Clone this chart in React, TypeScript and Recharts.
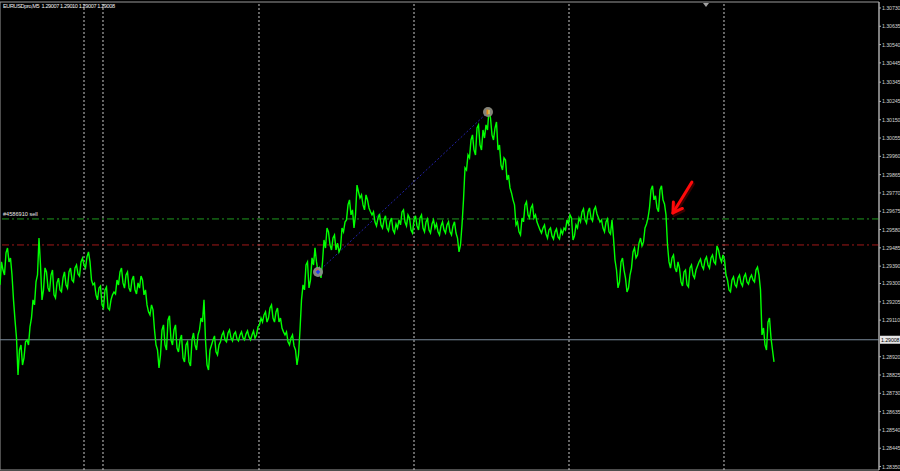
import React from 'react';
import { LineChart, Line, XAxis, YAxis, ReferenceLine, ReferenceDot, ReferenceArea } from 'recharts';

// Closes read at whole-bar positions
const prices: number[] = [
  1.29293, 1.29370, 1.29459, 1.29412, 1.29344, 1.29111, 1.28825, 1.28981, 1.28914, 1.29007,
  1.29075, 1.29215, 1.29308, 1.29536, 1.29215, 1.29381, 1.29277, 1.29344, 1.29241, 1.29303,
  1.29267, 1.29329, 1.29293, 1.29360, 1.29318, 1.29381, 1.29350, 1.29412, 1.29396, 1.29438,
  1.29412, 1.29293, 1.29241, 1.29277, 1.29189, 1.29267, 1.29173, 1.29215, 1.29256, 1.29318,
  1.29360, 1.29303, 1.29344, 1.29277, 1.29318, 1.29267, 1.29303, 1.29339, 1.29241, 1.29189,
  1.29137, 1.29163, 1.28981, 1.28862, 1.29059, 1.28981, 1.29111, 1.29007, 1.29059, 1.28965,
  1.29007, 1.28914, 1.28981, 1.28893, 1.29007, 1.28981, 1.29033, 1.29121, 1.29215, 1.28877,
  1.28955, 1.29007, 1.28945, 1.28981, 1.29033, 1.29007, 1.29043, 1.29017, 1.29038, 1.29012,
  1.29033, 1.29017, 1.29038, 1.29023, 1.29033, 1.29017, 1.29075, 1.29121, 1.29137, 1.29100,
  1.29173, 1.29121, 1.29152, 1.29100, 1.29069, 1.29033, 1.28997, 1.29017, 1.28976, 1.28877,
  1.29059, 1.29293, 1.29396, 1.29277, 1.29433, 1.29485, 1.29360, 1.29329, 1.29526, 1.29588,
  1.29500, 1.29536, 1.29474, 1.29464, 1.29588, 1.29619, 1.29708, 1.29656, 1.29588, 1.29811,
  1.29744, 1.29708, 1.29760, 1.29692, 1.29656, 1.29619, 1.29640, 1.29604, 1.29630, 1.29588,
  1.29619, 1.29578, 1.29609, 1.29630, 1.29671, 1.29619, 1.29656, 1.29578, 1.29630, 1.29599,
  1.29640, 1.29588, 1.29619, 1.29578, 1.29609, 1.29588, 1.29568, 1.29599, 1.29578, 1.29604,
  1.29568, 1.29599, 1.29562, 1.29464, 1.29604, 1.29900, 1.29967, 1.30045, 1.29993, 1.30107,
  1.30019, 1.30097, 1.30123, 1.30201, 1.30071, 1.30107, 1.29993, 1.29915, 1.29952, 1.29837,
  1.29796, 1.29734, 1.29604, 1.29568, 1.29640, 1.29708, 1.29656, 1.29692, 1.29640, 1.29619,
  1.29578, 1.29588, 1.29557, 1.29578, 1.29547, 1.29568, 1.29542, 1.29578, 1.29588, 1.29630,
  1.29656, 1.29526, 1.29604, 1.29640, 1.29671, 1.29630, 1.29671, 1.29640, 1.29682, 1.29661,
  1.29619, 1.29588, 1.29619, 1.29568, 1.29630, 1.29422, 1.29277, 1.29412, 1.29370, 1.29256,
  1.29344, 1.29464, 1.29433, 1.29510, 1.29495, 1.29588, 1.29640, 1.29786, 1.29734, 1.29692,
  1.29786, 1.29734, 1.29656, 1.29412, 1.29433, 1.29381, 1.29412, 1.29308, 1.29360, 1.29293,
  1.29381, 1.29344, 1.29370, 1.29412, 1.29391, 1.29422, 1.29396, 1.29433, 1.29412, 1.29495,
  1.29433, 1.29448, 1.29344, 1.29267, 1.29318, 1.29293, 1.29329, 1.29303, 1.29334, 1.29308,
  1.29329, 1.29318, 1.29370, 1.29344, 1.29033, 1.28981, 1.29100, 1.29017, 1.28893,
];

// Closes read at half-bar positions (between consecutive entries above)
const halfBarPrices: number[] = [
  1.29412, 1.29344, 1.29484, 1.29432, 1.29215, 1.29017, 1.28955, 1.28877, 1.28997, 1.28981,
  1.29121, 1.29189, 1.29344, 1.29396, 1.29267, 1.29360, 1.29257, 1.29370, 1.29225, 1.29328,
  1.29257, 1.29360, 1.29276, 1.29380, 1.29308, 1.29396, 1.29339, 1.29432, 1.29380, 1.29464,
  1.29318, 1.29302, 1.29215, 1.29287, 1.29173, 1.29282, 1.29163, 1.29241, 1.29246, 1.29292,
  1.29380, 1.29276, 1.29360, 1.29257, 1.29339, 1.29246, 1.29276, 1.29318, 1.29267, 1.29153,
  1.29189, 1.29059, 1.28955, 1.28929, 1.29085, 1.28955, 1.29132, 1.28981, 1.29085, 1.28945,
  1.29033, 1.28893, 1.28997, 1.28872, 1.29043, 1.28955, 1.29059, 1.29100, 1.29007, 1.28851,
  1.28981, 1.29028, 1.28929, 1.28997, 1.29049, 1.28997, 1.29059, 1.29002, 1.29049, 1.29002,
  1.29049, 1.29007, 1.29054, 1.29007, 1.29054, 1.29033, 1.29085, 1.29100, 1.29153, 1.29121,
  1.29189, 1.29100, 1.29173, 1.29121, 1.29049, 1.29049, 1.28981, 1.29033, 1.28955, 1.28929,
  1.29215, 1.29267, 1.29412, 1.29318, 1.29396, 1.29412, 1.29380, 1.29412, 1.29484, 1.29568,
  1.29474, 1.29552, 1.29510, 1.29484, 1.29568, 1.29630, 1.29734, 1.29682, 1.29656, 1.29776,
  1.29760, 1.29682, 1.29734, 1.29672, 1.29672, 1.29599, 1.29661, 1.29588, 1.29651, 1.29573,
  1.29640, 1.29562, 1.29588, 1.29604, 1.29682, 1.29599, 1.29640, 1.29562, 1.29651, 1.29578,
  1.29656, 1.29568, 1.29635, 1.29562, 1.29630, 1.29609, 1.29552, 1.29620, 1.29562, 1.29620,
  1.29552, 1.29620, 1.29536, 1.29500, 1.29734, 1.29889, 1.29952, 1.30071, 1.29967, 1.30123,
  1.29993, 1.30055, 1.30097, 1.30159, 1.30045, 1.30138, 1.30019, 1.29889, 1.29941, 1.29863,
  1.29770, 1.29708, 1.29620, 1.29552, 1.29620, 1.29724, 1.29640, 1.29708, 1.29656, 1.29599,
  1.29562, 1.29604, 1.29536, 1.29588, 1.29531, 1.29583, 1.29531, 1.29557, 1.29578, 1.29609,
  1.29640, 1.29547, 1.29588, 1.29620, 1.29687, 1.29614, 1.29692, 1.29625, 1.29698, 1.29640,
  1.29630, 1.29568, 1.29635, 1.29557, 1.29536, 1.29370, 1.29308, 1.29432, 1.29328, 1.29276,
  1.29380, 1.29484, 1.29448, 1.29536, 1.29516, 1.29609, 1.29692, 1.29807, 1.29755, 1.29672,
  1.29807, 1.29713, 1.29500, 1.29380, 1.29448, 1.29360, 1.29380, 1.29287, 1.29370, 1.29282,
  1.29396, 1.29328, 1.29391, 1.29427, 1.29375, 1.29438, 1.29380, 1.29448, 1.29401, 1.29474,
  1.29412, 1.29422, 1.29318, 1.29257, 1.29334, 1.29282, 1.29344, 1.29287, 1.29350, 1.29297,
  1.29344, 1.29308, 1.29385, 1.29267, 1.29069, 1.28955, 1.29121, 1.28955,
];

const yTicks: number[] = [
  1.30730, 1.30635, 1.30540, 1.30445, 1.30345, 1.30245, 1.30150, 1.30055, 1.29960, 1.29865,
  1.29770, 1.29675, 1.29580, 1.29485, 1.29390, 1.29300, 1.29205, 1.29110, 1.28920, 1.28825,
  1.28730, 1.28635, 1.28540, 1.28445, 1.28350,
];

const periodSeparators: number[] = [28, 34.33, 86.33, 138, 189.67, 241.33];

const symbolTitle = 'EURUSDpro,M5  1.29007 1.29010 1.29007 1.29008';
const orderLabel = '#4586910 sell';
const orderPrice = 1.29635;
const stopPrice = 1.29500;
const bidPrice = 1.29008;
const openTrade = { bar: 106, price: 1.29360 };
const closeTrade = { bar: 162.67, price: 1.30190 };
const arrowTip = { bar: 224.3, price: 1.29666 };
const shiftMarkerBar = 235.33;

const xDomain: [number, number] = [0, 293];
const yDomain: [number, number] = [1.28332, 1.30761];

const data: { bar: number; price: number }[] = [];
prices.forEach((p, i) => {
  data.push({ bar: i, price: p });
  if (i < halfBarPrices.length) data.push({ bar: i + 0.5, price: halfBarPrices[i] });
});

const FONT = '"Liberation Sans", Arial, sans-serif';

const AxisTick = (props: any) => {
  const { x, y, payload } = props;
  return (
    <text x={x} y={y + 2} fontSize={5.3} fill="#d0d0d0" fontFamily={FONT} letterSpacing={-0.1}>
      {Number(payload.value).toFixed(5)}
    </text>
  );
};

const BidLabel = (props: any) => {
  const vb = props.viewBox || {};
  const x = (vb.x || 0) + (vb.width || 0) + 1;
  const y = vb.y || 0;
  return (
    <g>
      <rect x={x} y={y - 4} width={20} height={8} fill="#e6e6e6" />
      <text x={x + 1} y={y + 2} fontSize={5.3} fill="#000" fontFamily={FONT} letterSpacing={-0.1}>
        {bidPrice.toFixed(5)}
      </text>
    </g>
  );
};

const OrderLabel = (props: any) => {
  const vb = props.viewBox || {};
  return (
    <text x={(vb.x || 0) + 3} y={(vb.y || 0) - 2.5} fontSize={5.6} fill="#e8e8e8" fontFamily={FONT}>
      {orderLabel}
    </text>
  );
};

const OpenMarker = (props: any) => {
  const { cx, cy } = props;
  return (
    <g>
      <circle cx={cx} cy={cy} r={5} fill="#8a8a8a" opacity={0.95} />
      <circle cx={cx - 0.5} cy={cy - 2} r={1.4} fill="#c06060" />
      <line x1={cx - 2} y1={cy} x2={cx + 2} y2={cy} stroke="#1030ff" strokeWidth={1.2} />
      <line x1={cx} y1={cy - 2} x2={cx} y2={cy + 2} stroke="#1030ff" strokeWidth={1.2} />
    </g>
  );
};

const CloseMarker = (props: any) => {
  const { cx, cy } = props;
  return (
    <g>
      <circle cx={cx} cy={cy} r={5} fill="#8a8a80" opacity={0.95} />
      <rect x={cx - 1.5} y={cy - 2.5} width={2} height={5} fill="#e08a20" />
      <rect x={cx + 0.5} y={cy - 2} width={1} height={4} fill="#f0e060" />
    </g>
  );
};

const RedArrow = (props: any) => {
  const { cx, cy } = props;
  const shaft = `M ${cx + 19} ${cy - 31} L ${cx} ${cy}`;
  const head = `M ${cx + 0.5} ${cy - 11} L ${cx} ${cy} L ${cx + 9.5} ${cy - 4.5}`;
  return (
    <g>
      <path d={shaft} stroke="#3a0000" strokeWidth={3} fill="none" transform="translate(1.5,2)" strokeLinecap="round" />
      <path d={head} stroke="#3a0000" strokeWidth={3} fill="none" transform="translate(1.5,2)" strokeLinecap="round" />
      <path d={shaft} stroke="#ff0a0a" strokeWidth={3} fill="none" strokeLinecap="round" />
      <path d={head} stroke="#ff0a0a" strokeWidth={3} fill="none" strokeLinecap="round" strokeLinejoin="round" />
    </g>
  );
};

const ShiftMarker = (props: any) => {
  const { cx, cy } = props;
  return <path d={`M ${cx - 3} ${cy + 1} L ${cx + 3} ${cy + 1} L ${cx} ${cy + 5} Z`} fill="#a0a0a0" />;
};

export default function App() {
  return (
    <div style={{ position: 'fixed', left: 0, top: 0, width: 900, height: 471, background: '#000' }}>
      <LineChart
        width={900}
        height={471}
        data={data}
        margin={{ top: 2, right: 0, bottom: 1, left: 0 }}
      >
        <XAxis dataKey="bar" type="number" domain={xDomain} hide allowDataOverflow />
        <YAxis
          orientation="right"
          width={21}
          domain={yDomain}
          ticks={yTicks}
          interval={0}
          allowDataOverflow
          tick={<AxisTick />}
          tickSize={2}
          tickMargin={1}
          stroke="#b0b0b0"
          axisLine={{ stroke: '#b0b0b0' }}
          tickLine={{ stroke: '#b0b0b0' }}
        />
        <ReferenceArea
          x1={xDomain[0]}
          x2={xDomain[1]}
          y1={yDomain[0]}
          y2={yDomain[1]}
          fill="none"
          stroke="#9a9a9a"
          strokeWidth={1}
          ifOverflow="visible"
        />
        {periodSeparators.map((b) => (
          <ReferenceLine key={b} x={b} stroke="#c8c8c8" strokeDasharray="2 2" strokeWidth={1} />
        ))}
        <ReferenceLine y={orderPrice} stroke="#1f9a1f" strokeDasharray="7 3 2 3" strokeWidth={1} label={<OrderLabel />} />
        <ReferenceLine y={stopPrice} stroke="#a01818" strokeDasharray="7 3 2 3" strokeWidth={1} />
        <ReferenceLine y={bidPrice} stroke="#7a8a9a" strokeWidth={1} label={<BidLabel />} />
        <ReferenceLine
          segment={[
            { x: openTrade.bar, y: openTrade.price },
            { x: closeTrade.bar, y: closeTrade.price },
          ]}
          stroke="#2222a8"
          strokeDasharray="2 2"
          strokeWidth={1}
        />
        <Line
          type="linear"
          dataKey="price"
          stroke="#00ff00"
          strokeWidth={1.4}
          strokeLinejoin="miter"
          dot={false}
          isAnimationActive={false}
        />
        <ReferenceDot x={openTrade.bar} y={openTrade.price} r={5} shape={<OpenMarker />} />
        <ReferenceDot x={closeTrade.bar} y={closeTrade.price} r={5} shape={<CloseMarker />} />
        <ReferenceDot x={arrowTip.bar} y={arrowTip.price} r={2} shape={<RedArrow />} />
        <ReferenceDot x={shiftMarkerBar} y={yDomain[1]} r={2} shape={<ShiftMarker />} ifOverflow="visible" />
      </LineChart>
      <div
        style={{
          position: 'absolute',
          left: 3,
          top: 2,
          fontSize: 5.6,
          lineHeight: '8px',
          letterSpacing: '-0.4px',
          color: '#f0f0f0',
          fontFamily: FONT,
          whiteSpace: 'pre',
        }}
      >
        {symbolTitle}
      </div>
    </div>
  );
}
